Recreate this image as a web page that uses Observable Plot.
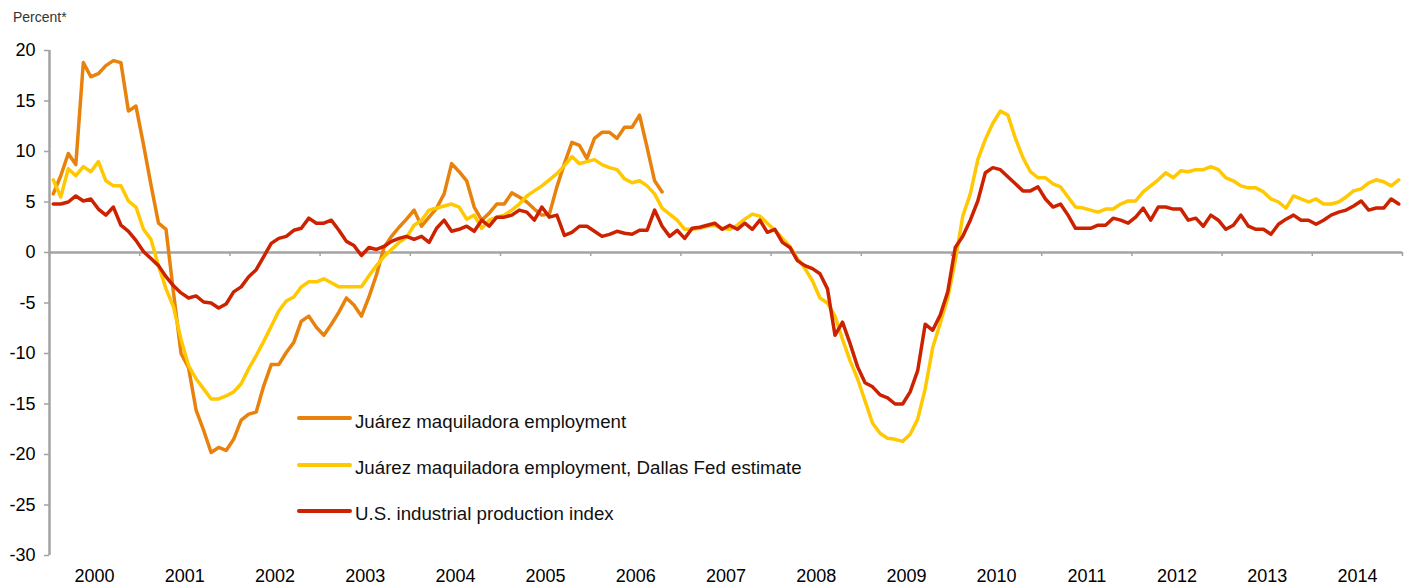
<!DOCTYPE html>
<html>
<head>
<meta charset="utf-8">
<script src="https://cdn.jsdelivr.net/npm/d3@7"></script>
<script src="https://cdn.jsdelivr.net/npm/@observablehq/plot@0.6"></script>
<style>
  body { margin: 0; background: #fff; font-family: "Liberation Sans", Arial, Helvetica, sans-serif; }
  #wrap { position: relative; width: 1405px; height: 588px; }
  #unit { position: absolute; left: 13px; top: 10px; font-size: 14px; line-height: 1; color: #333; }
  .sw { position: absolute; left: 297px; width: 55px; height: 4px; border-radius: 2px; }
  .lt { position: absolute; left: 355px; font-size: 18.7px; line-height: 1; color: #111; white-space: nowrap; }
</style>
</head>
<body>
<div id="wrap"><div id="unit">Percent*</div></div>
<script>
// ---- data ----
const startYear = 2000;
const yearBoundaries = d3.range(2000, 2016);
const yearLabels = d3.range(2000, 2015);
const yTicks = [20, 15, 10, 5, 0, -5, -10, -15, -20, -25, -30];

const seriesNames = [
  "Juárez maquiladora employment",
  "Juárez maquiladora employment, Dallas Fed estimate",
  "U.S. industrial production index"
];
const seriesColors = ["#E8820C", "#FFC800", "#CC2200"];

// monthly, starting Jan 2000
const juarez = [
  5.8, 7.6, 9.8, 8.7, 18.8, 17.4, 17.7, 18.5, 19.0, 18.8, 14.0, 14.5,
  10.7, 6.7, 2.9, 2.3, -4.0, -10.0, -11.4, -15.6, -17.6, -19.8, -19.3, -19.6,
  -18.5, -16.6, -16.0, -15.8, -13.2, -11.1, -11.1, -9.9, -8.9, -6.8, -6.3, -7.4,
  -8.2, -7.1, -5.9, -4.5, -5.2, -6.3, -4.4, -2.2, 0.5, 1.6, 2.5, 3.3,
  4.2, 2.6, 3.5, 4.4, 5.8, 8.8, 8.0, 7.1, 4.5, 3.2, 3.9, 4.8,
  4.8, 5.9, 5.5, 5.0, 4.3, 3.7, 3.8, 6.5, 8.8, 10.9, 10.6, 9.3,
  11.3, 11.9, 11.9, 11.3, 12.4, 12.4, 13.6, 10.4, 7.1, 6.0
];
const dallasFed = [
  7.2, 5.5, 8.3, 7.6, 8.5, 8.0, 9.0, 7.1, 6.6, 6.6, 5.1, 4.5,
  2.3, 1.3, -1.3, -3.6, -5.4, -8.6, -11.2, -12.5, -13.5, -14.5, -14.5, -14.2,
  -13.8, -13.0, -11.5, -10.2, -8.8, -7.3, -5.8, -4.8, -4.4, -3.4, -2.9, -2.9,
  -2.6, -3.0, -3.4, -3.4, -3.4, -3.4, -2.3, -1.3, -0.4, 0.3, 1.0, 1.5,
  2.7, 3.2, 4.2, 4.4, 4.6, 4.8, 4.5, 3.3, 3.7, 2.4, 3.2, 3.5,
  3.7, 4.2, 4.8, 5.6, 6.1, 6.6, 7.2, 7.8, 8.6, 9.5, 8.8, 9.0,
  9.2, 8.7, 8.4, 8.2, 7.3, 6.9, 7.1, 6.6, 5.8, 4.4, 3.8, 3.2,
  2.3, 2.3, 2.4, 2.6, 2.7, 2.4, 2.3, 2.7, 3.3, 3.8, 3.6, 2.9,
  2.2, 1.4, 0.6, -0.6, -1.6, -2.8, -4.5, -5.0, -6.3, -8.6, -10.7, -12.5,
  -14.7, -16.9, -17.9, -18.4, -18.5, -18.7, -18.0, -16.5, -13.5, -9.4, -7.0, -4.5,
  -0.8, 3.6, 5.8, 9.2, 11.2, 12.8, 14.0, 13.6, 11.3, 9.4, 8.0, 7.4,
  7.4, 6.8, 6.5, 5.5, 4.5, 4.4, 4.2, 4.0, 4.3, 4.3, 4.8, 5.1,
  5.1, 6.0, 6.6, 7.2, 7.9, 7.4, 8.1, 8.0, 8.2, 8.2, 8.5, 8.2,
  7.4, 7.1, 6.6, 6.4, 6.4, 6.0, 5.3, 5.0, 4.4, 5.6, 5.3, 5.0,
  5.3, 4.8, 4.8, 5.0, 5.5, 6.1, 6.3, 6.9, 7.2, 7.0, 6.6, 7.2
];
const usIP = [
  4.8, 4.8, 5.0, 5.6, 5.1, 5.3, 4.3, 3.7, 4.5, 2.7, 2.1, 1.2,
  0.1, -0.6, -1.3, -2.4, -3.3, -4.0, -4.5, -4.3, -4.9, -5.0, -5.5, -5.1,
  -3.9, -3.4, -2.4, -1.7, -0.4, 0.9, 1.4, 1.6, 2.2, 2.4, 3.4, 2.9,
  2.9, 3.2, 2.2, 1.1, 0.7, -0.3, 0.5, 0.3, 0.6, 1.1, 1.4, 1.6,
  1.3, 1.6, 1.0, 2.4, 3.2, 2.1, 2.3, 2.6, 2.1, 3.2, 2.6, 3.5,
  3.5, 3.7, 4.2, 4.0, 3.2, 4.5, 3.5, 3.7, 1.7, 2.0, 2.6, 2.6,
  2.1, 1.6, 1.8, 2.1, 1.9, 1.8, 2.2, 2.2, 4.2, 2.6, 1.6, 2.2,
  1.4, 2.4, 2.5, 2.7, 2.9, 2.3, 2.7, 2.3, 2.9, 2.3, 3.2, 2.0,
  2.3, 1.0, 0.5, -0.8, -1.3, -1.6, -2.1, -3.6, -8.2, -6.9, -9.0, -11.3,
  -12.9, -13.3, -14.1, -14.4, -15.0, -15.0, -13.8, -11.7, -7.1, -7.7, -6.2, -3.9,
  0.5, 1.6, 3.2, 5.1, 7.9, 8.4, 8.2, 7.5, 6.8, 6.1, 6.1, 6.5,
  5.3, 4.5, 4.8, 3.7, 2.4, 2.4, 2.4, 2.7, 2.7, 3.4, 3.2, 2.9,
  3.5, 4.4, 3.2, 4.5, 4.5, 4.3, 4.3, 3.2, 3.4, 2.6, 3.7, 3.2,
  2.3, 2.7, 3.7, 2.6, 2.3, 2.3, 1.8, 2.8, 3.3, 3.7, 3.2, 3.2,
  2.8, 3.2, 3.7, 4.0, 4.2, 4.6, 5.1, 4.2, 4.4, 4.4, 5.3, 4.8
];

// ---- table ----
const monthPos = i => startYear + (i + 0.5) / 12;
const table = [];
[juarez, dallasFed, usIP].forEach((arr, s) =>
  arr.forEach((v, i) => table.push({ series: seriesNames[s], t: monthPos(i), v }))
);

const W = 1405, H = 588, mT = 50, mB = 33, mL = 49, mR = 3;
const yDomain = [-30, 20];
const zeroShift = (0 - yDomain[0]) / (yDomain[1] - yDomain[0]) * (H - mT - mB);
const axisGray = "#a3a3a3";
const font = '"Liberation Sans", Arial, Helvetica, sans-serif';

const chart = Plot.plot({
  width: W, height: H,
  marginTop: mT, marginBottom: mB, marginLeft: mL, marginRight: mR,
  style: { fontFamily: font, fontSize: "18px", background: "#fff", color: "#000" },
  x: { domain: [2000, 2015] },
  y: { domain: yDomain },
  color: { domain: seriesNames, range: seriesColors },
  marks: [
    Plot.ruleY([0], { stroke: axisGray, strokeWidth: 2.5 }),
    Plot.ruleX([2000], { stroke: axisGray, strokeWidth: 2.5 }),
    Plot.axisX(yearBoundaries, { anchor: "bottom", tickSize: 4, tickFormat: () => "", stroke: axisGray, strokeWidth: 1.5, dy: -zeroShift, label: null }),
    Plot.axisX(yearLabels.map(y => y + 0.5), { anchor: "bottom", tickSize: 0, tickPadding: 14, tickFormat: d => String(Math.floor(d)), fontSize: 18, fill: "#000", label: null }),
    Plot.axisY(yTicks, { anchor: "left", tickSize: 5, tickPadding: 9, tickFormat: d => String(d), stroke: axisGray, strokeWidth: 1.5, fontSize: 18, fill: "#000", label: null }),
    Plot.line(table, { x: "t", y: "v", z: "series", stroke: "series", strokeWidth: 3.5, strokeLinejoin: "round", strokeLinecap: "round" })
  ]
});

const wrap = document.getElementById("wrap");
wrap.insertBefore(chart, wrap.firstChild);

// legend
const swatchY = 418.3, textTop = 412.5, legendStep = 46.2;
seriesNames.forEach((name, i) => {
  const sw = document.createElement("div");
  sw.className = "sw";
  sw.style.top = (swatchY + i * legendStep - 2) + "px";
  sw.style.background = seriesColors[i];
  const tx = document.createElement("div");
  tx.className = "lt";
  tx.style.top = (textTop + i * legendStep) + "px";
  tx.textContent = name;
  wrap.appendChild(sw);
  wrap.appendChild(tx);
});
</script>
</body>
</html>
